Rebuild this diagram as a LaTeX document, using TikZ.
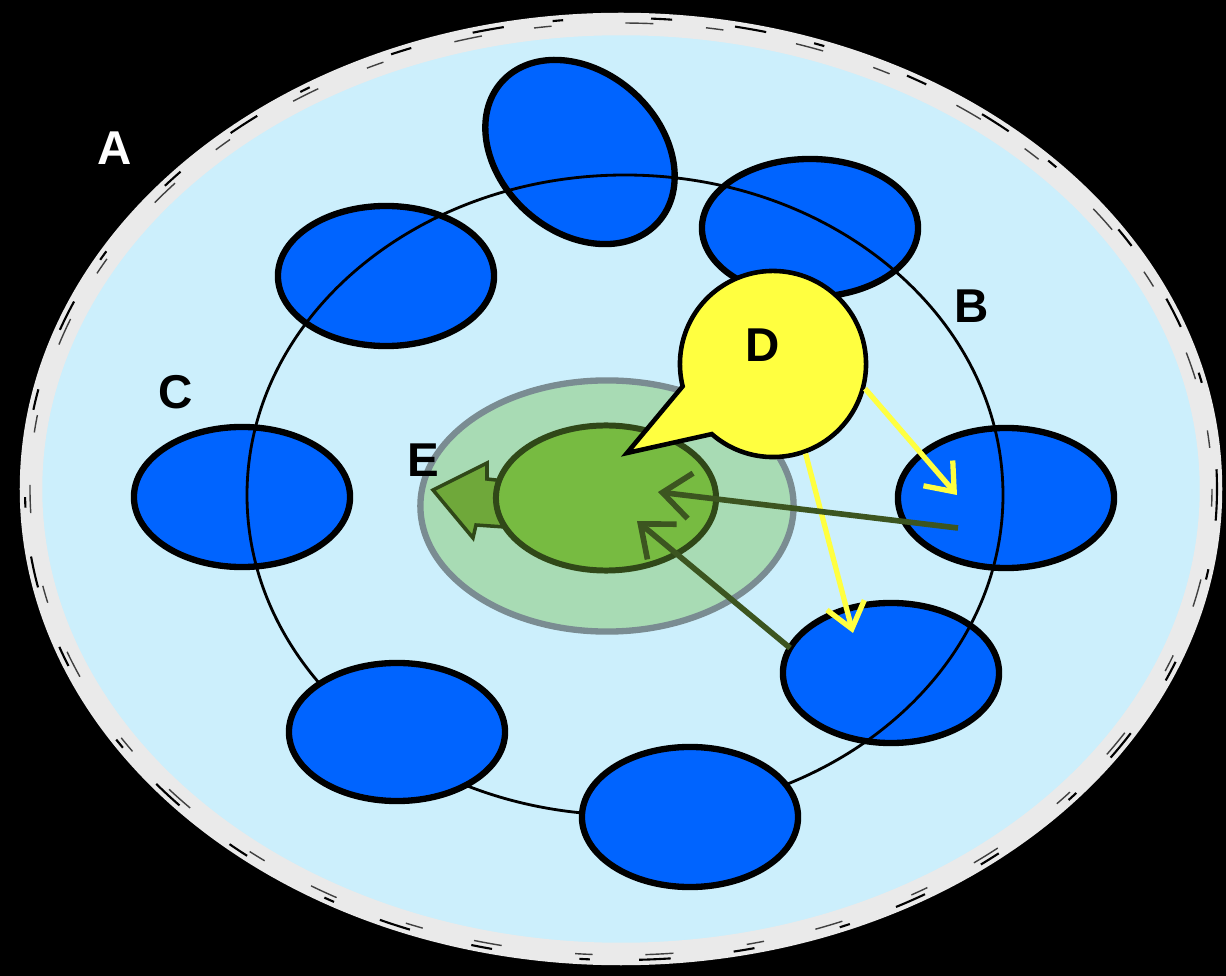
\documentclass[tikz,border=0pt]{standalone}
\usepackage{fontspec}
\setmainfont{Liberation Sans}
\usepackage{tikz}
\usetikzlibrary{arrows.meta,positioning,shapes.geometric,shapes.callouts}
\definecolor{cellblue}{RGB}{0,100,255}
\definecolor{dishblue}{RGB}{204,239,252}
\definecolor{rimgrey}{RGB}{234,234,234}
\definecolor{halogreen}{RGB}{168,219,180}
\definecolor{halogrey}{RGB}{122,140,146}
\definecolor{coregreen}{RGB}{119,187,65}
\definecolor{coredark}{RGB}{48,72,24}
\definecolor{pushgreen}{RGB}{111,168,58}
\definecolor{signyellow}{RGB}{255,255,64}
\definecolor{pullgreen}{RGB}{60,85,32}
\tikzset{
    mycell/.style={ellipse,draw=black,line width=1.8pt,fill=cellblue,inner sep=0pt,minimum width=2.16cm,minimum height=1.40cm},
    myhalo/.style={ellipse,draw=halogrey,line width=1.8pt,fill=halogreen,inner sep=0pt},
    mycore/.style={ellipse,draw=coredark,line width=1.7pt,fill=coregreen,inner sep=0pt},
    mylabel/.style={font=\bfseries\fontsize{13.5}{16}\selectfont,text=black,inner sep=0pt},
    mysignal/.style={draw=signyellow,line width=1.5pt,-{Straight Barb[length=7pt,width=11pt]}},
    mypull/.style={draw=pullgreen,line width=1.6pt,-{Straight Barb[length=8pt,width=13pt]}}
}
\begin{document}
\begin{tikzpicture}[x=0.01cm,y=-0.01cm]
    \fill[black] (0,0) rectangle (1226,976);
    \useasboundingbox (0,0) rectangle (1226,976);

    % 培养皿
    \draw[rimgrey,fill=dishblue,line width=6.4pt]
        (621,489) ellipse [x radius=590, y radius=465];
    \draw[black,line width=0.6pt,dash pattern=on 9pt off 14pt on 3pt off 25pt on 6pt off 18pt]
        (621,489) ellipse [x radius=596, y radius=471];
    \draw[black!75,line width=0.4pt,dash pattern=on 5pt off 21pt on 8pt off 15pt]
        (621,489) ellipse [x radius=591, y radius=466];

    % 环上的细胞
    \node[mycell,minimum width=2.10cm,minimum height=1.60cm,rotate=-42] (c1) at (580,152) {};
    \node[mycell,minimum height=1.38cm] (c2) at (810,228) {};
    \node[mycell] (c3) at (386,276) {};
    \node[mycell] (c4) at (242,497) {};
    \node[mycell] (c5) at (1006,498) {};
    \node[mycell] (c6) at (891,673) {};

    % 环
    \draw[black,line width=0.8pt] (625,495) ellipse [x radius=378, y radius=320];

    \node[mycell,minimum height=1.38cm] (c7) at (397,732) {};
    \node[mycell] (c8) at (690,817) {};

    % 中心
    \node[myhalo,minimum width=3.73cm,minimum height=2.51cm] (halo) at (607,506) {};
    \draw[coredark,fill=pushgreen,line width=1pt,line join=miter]
        (433,490) -- (487,463) -- (487,479) -- (505,481) -- (505,527)
        -- (476,525) -- (473,538) -- cycle;
    \node[mycore,minimum width=2.20cm,minimum height=1.45cm] (core) at (606,498) {};

    % 信号
    \coordinate (ptr) at (627,453);
    \node[
        ellipse callout,
        draw=black,
        line width=1.3pt,
        fill=signyellow,
        inner sep=0pt,
        minimum width=1.86cm,
        minimum height=1.86cm,
        callout absolute pointer={(ptr)},
        callout pointer arc=35
    ] (sig) at (773,364) {};

    \coordinate (t5) at (957,495);
    \coordinate (t6) at (853,633);
    \draw[mysignal] (sig.-15) -- (t5);
    \draw[mysignal] (sig.-70) -- (t6);

    % 向中心拉
    \coordinate (s5) at (958,528);
    \coordinate (e5) at (658,492);
    \coordinate (s6) at (790,648);
    \coordinate (e6) at (637,521);
    \draw[mypull] (s5) -- (e5);
    \draw[mypull] (s6) -- (e6);

    % 字母
    \node[mylabel,text=white] (la) at (115,148) {A};
    \node[mylabel] (lb) at (972,306) {B};
    \node[mylabel] (lc) at (176,392) {C};
    \node[mylabel] (ld) at (763,345) {D};
    \node[mylabel] (le) at (423,460) {E};
\end{tikzpicture}
\end{document}
